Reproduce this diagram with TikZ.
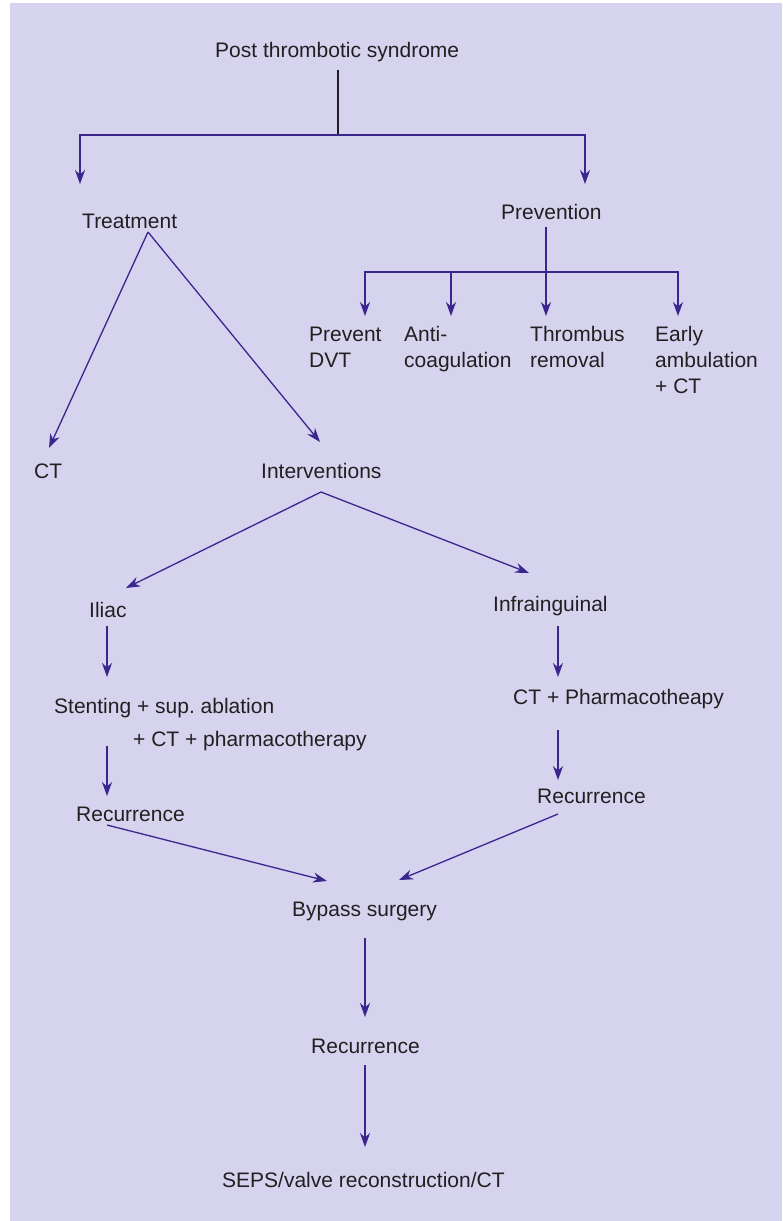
\documentclass[tikz,border=0pt]{standalone}
\usepackage{fontspec}
\setmainfont{Liberation Sans}
\usetikzlibrary{arrows.meta,calc}
\definecolor{bgc}{RGB}{214,211,239}
\definecolor{arrc}{RGB}{58,38,140}
\definecolor{txtc}{RGB}{35,31,32}
\frenchspacing
\tikzset{
  lbl/.style={inner sep=0pt, anchor=base west, text=txtc, align=left,
    font=\fontsize{21}{26}\selectfont},
  arr/.style={draw=arrc, line width=1.3pt,
    -{Stealth[length=14pt,width=10pt,inset=4.5pt]}},
  plain/.style={draw=arrc, line width=1.3pt}
}
\begin{document}
\begin{tikzpicture}[x=1pt,y=-1pt]
\useasboundingbox (0,0) rectangle (782,1221);
\fill[bgc] (10,3) rectangle (782,1221);
% nodes (multi-line nodes are placed at the baseline of their last line)
\node[lbl] (root) at (215,57) {Post thrombotic syndrome};
\node[lbl] (treat) at (82,228) {Treatment};
\node[lbl] (prev) at (501,219) {Prevention};
\node[lbl] (pdvt) at (309,367) {Prevent\\DVT};
\node[lbl] (anti) at (404,367) {Anti-\\coagulation};
\node[lbl] (throm) at (530,367) {Thrombus\\removal};
\node[lbl] (early) at (655,393) {Early\\ambulation\\+ CT};
\node[lbl] (ct) at (34,478) {CT};
\node[lbl] (interv) at (261,478) {Interventions};
\node[lbl] (iliac) at (89,617) {Iliac};
\node[lbl] (infra) at (493,611) {Infrainguinal};
\node[lbl] (stent) at (54,746) {Stenting + sup. ablation\\[7pt]\hspace*{79pt}+ CT + pharmacotherapy};
\node[lbl] (ctph) at (513,704) {CT + Pharmacotheapy};
\node[lbl] (recL) at (76,821) {Recurrence};
\node[lbl] (recR) at (537,803) {Recurrence};
\node[lbl] (bypass) at (292,916) {Bypass surgery};
\node[lbl] (recB) at (311,1053) {Recurrence};
\node[lbl] (seps) at (222,1187) {SEPS/valve reconstruction/CT};
% junctions
\coordinate (j1) at ($(root.base west)+(123,78)$);
\coordinate (j2) at ($(prev.base west)+(45,53)$);
% connectors
\draw[line width=1.3pt, draw=txtc] ($(root.base west)+(123,13)$) -- (j1);
\draw[arr] (j1) -| ($(treat.base west)+(-2,-44)$);
\draw[arr] (j1) -| ($(prev.base west)+(84,-35)$);
\draw[plain] ($(prev.base west)+(45,8)$) -- (j2);
\draw[arr] (j2) -| ($(pdvt.base west)+(56,-51)$);
\draw[arr] (j2) -| ($(anti.base west)+(47,-51)$);
\draw[arr] (j2) -- ($(throm.base west)+(16,-51)$);
\draw[arr] (j2) -| ($(early.base west)+(23,-77)$);
\draw[arr] ($(treat.base west)+(66,4)$) -- ($(ct.base west)+(15,-30)$);
\draw[arr] ($(treat.base west)+(66,4)$) -- ($(interv.base west)+(59,-36)$);
\draw[arr] ($(interv.base west)+(60,14)$) -- ($(iliac.base west)+(37,-29)$);
\draw[arr] ($(interv.base west)+(60,14)$) -- ($(infra.base west)+(36,-38)$);
\draw[arr] ($(iliac.base west)+(18,9)$) -- ($(stent.base west)+(53,-69)$);
\draw[arr] ($(stent.base west)+(53,0)$) -- ($(recL.base west)+(31,-25)$);
\draw[arr] ($(infra.base west)+(65,15)$) -- ($(ctph.base west)+(45,-27)$);
\draw[arr] ($(ctph.base west)+(45,26)$) -- ($(recR.base west)+(21,-23)$);
\draw[arr] ($(recL.base west)+(31,4)$) -- ($(bypass.base west)+(35,-35)$);
\draw[arr] ($(recR.base west)+(21,11)$) -- ($(bypass.base west)+(107,-36)$);
\draw[arr] ($(bypass.base west)+(73,22)$) -- ($(recB.base west)+(54,-36)$);
\draw[arr] ($(recB.base west)+(54,12)$) -- ($(seps.base west)+(143,-40)$);
\end{tikzpicture}
\end{document}
